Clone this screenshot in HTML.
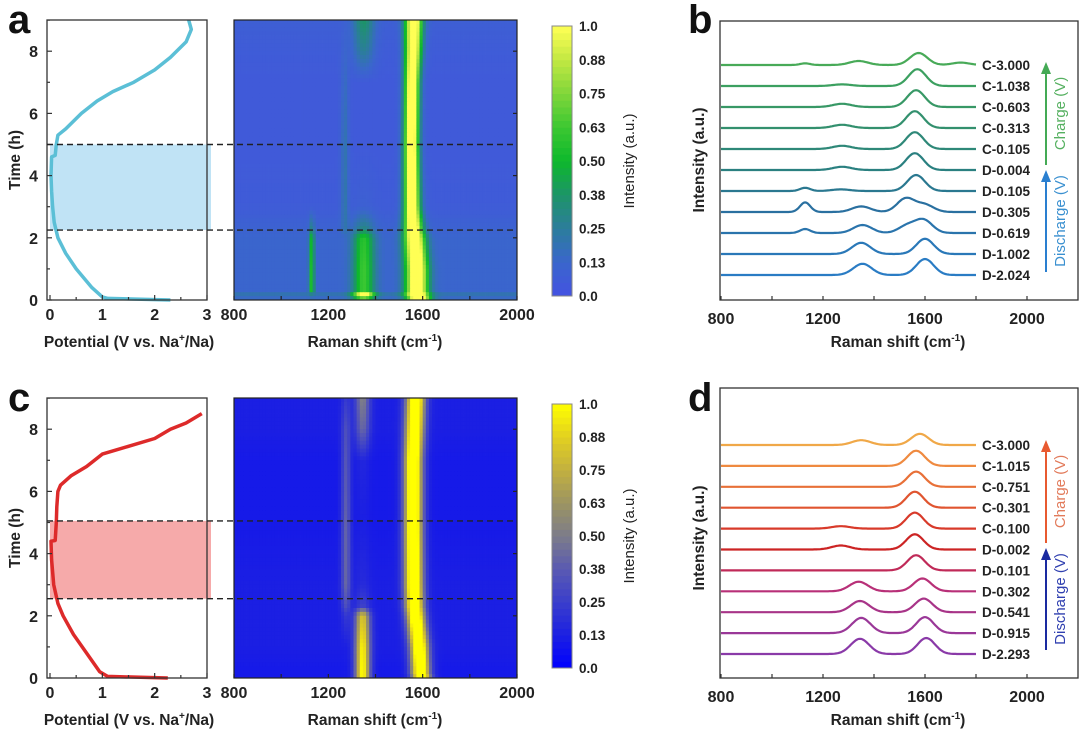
<!DOCTYPE html>
<html><head><meta charset="utf-8"><style>
html,body{margin:0;padding:0;background:#fff;}
svg{display:block;font-family:"Liberation Sans",Arial,sans-serif;}
.tk{font-size:16px;font-weight:bold;fill:#222;}
.tt{font-size:15.5px;font-weight:bold;fill:#222;}
.pl{font-size:40px;font-weight:bold;fill:#111;}
.lb{font-size:13.5px;font-weight:bold;fill:#222;}
</style></head><body>
<svg id="fig" width="1080" height="731" viewBox="0 0 1080 731"></svg>
<script>
// ---------- DATA ----------
const potATime=[0,0.05,0.1,0.4,1.0,1.5,2.0,2.5,3.0,3.5,4.0,4.6,4.65,5.0,5.3,5.5,6.0,6.4,6.7,7.0,7.4,7.8,8.3,8.7,9.0];
const potAVolt=[2.3,1.1,1.0,0.8,0.5,0.3,0.15,0.08,0.05,0.03,0.02,0.03,0.1,0.12,0.15,0.3,0.6,0.9,1.2,1.6,2.0,2.3,2.6,2.7,2.65];
const potCTime=[0,0.05,0.2,0.8,1.4,2.0,2.4,3.0,3.8,4.4,4.42,5.0,5.5,6.0,6.2,6.5,6.8,7.2,7.45,7.7,8.0,8.2,8.5];
const potCVolt=[2.25,1.1,0.95,0.7,0.45,0.25,0.15,0.07,0.03,0.02,0.1,0.12,0.13,0.15,0.2,0.4,0.7,1.0,1.5,2.0,2.3,2.6,2.9];
const shadeA=[2.25,5.0];
const shadeC=[2.55,5.05];
// heatmap knots (time h)
const hmTimes=[0,0.2,0.3,1,2,2.3,3,5,7,8,9];
const hmAGCenter=[1585,1575,1575,1575,1565,1560,1555,1552,1555,1560,1562];
const hmAGWidth=[40,40,38,38,36,32,28,26,26,28,30];
const hmADAmp=[0.4,0.95,0.5,0.5,0.45,0.2,0.03,0,0,0.2,0.3];
const hmA1130=[0,0.1,0.45,0.45,0.4,0.2,0,0,0,0,0];
const hmA1270=[0,0,0,0,0,0.1,0.15,0.15,0.1,0.05,0];
const hmABase=[0.12,0.2,0.12,0.12,0.12,0.1,0.06,0.05,0.05,0.06,0.08];
const hmCGCenter=[1595,1590,1590,1585,1570,1565,1562,1560,1560,1565,1570];
const hmCDAmp=[0.9,0.9,0.9,0.85,0.7,0.15,0.05,0.02,0.05,0.3,0.4];
const hmC1270=[0,0,0,0,0.1,0.2,0.3,0.3,0.25,0.2,0.1];
const hmCBase=[0.1,0.1,0.1,0.12,0.12,0.12,0.12,0.1,0.1,0.12,0.12];
// spectra
const specBLabels=["D-2.024","D-1.002","D-0.619","D-0.305","D-0.105","D-0.004","C-0.105","C-0.313","C-0.603","C-1.038","C-3.000"];
const specBPeaks=[[[1600,1.0],[1355,0.7]],[[1600,0.95],[1350,0.7]],[[1595,0.8],[1530,0.45],[1355,0.5],[1130,0.25]],[[1525,0.85],[1600,0.45],[1350,0.35],[1130,0.6]],[[1565,1.0],[1130,0.2],[1270,0.1]],[[1560,1.05],[1275,0.2]],[[1560,1.05],[1275,0.2]],[[1560,1.05],[1275,0.2]],[[1565,1.05],[1275,0.2]],[[1570,1.05],[1275,0.1]],[[1575,0.75],[1340,0.25],[1130,0.1],[1740,0.15]]];
const specDLabels=["D-2.293","D-0.915","D-0.541","D-0.302","D-0.101","D-0.002","C-0.100","C-0.301","C-0.751","C-1.015","C-3.000"];
const specDPeaks=[[[1605,1.0],[1345,0.95]],[[1600,1.0],[1350,0.95]],[[1595,0.85],[1345,0.7]],[[1590,0.8],[1340,0.6]],[[1565,0.95]],[[1560,0.95],[1270,0.25]],[[1560,1.0],[1270,0.15]],[[1560,1.0]],[[1565,0.95]],[[1565,0.95]],[[1580,0.7],[1350,0.3]]];
const specBColors=["#2a7cc4","#2a78b8","#2a74ac","#2a70a0","#2a7890","#2a8080","#2e8878","#33906e","#389866","#3ca060","#48aa58"];
const specDColors=["#8a3aa8","#9a3898","#a83488","#b83078","#c02a58","#cc2424","#d83a2a","#e05530","#e87038","#ef8a40","#f0a848"];
const cbTicks=["0.0","0.13","0.25","0.38","0.50","0.63","0.75","0.88","1.0"];
const cmapA=["#4452e2","#3a66cc","#2c7d9c","#1d9468","#0db82c","#3cc832","#80d63a","#c2e842","#ffff55"];
const cmapC=["#0000ff","#1c20e2","#3a3ecc","#5a5ab2","#7c7c8a","#9c9462","#c2b040","#e2d020","#ffff00"];

// ---------- HELPERS ----------
const NS="http://www.w3.org/2000/svg";
const svg=document.getElementById('fig');
function mk(tag,attrs,parent,text){const e=document.createElementNS(NS,tag);for(const k in attrs)e.setAttribute(k,attrs[k]);if(text!==undefined)e.textContent=text;(parent||svg).appendChild(e);return e;}
function interp(xs,ys,x){if(x<=xs[0])return ys[0];for(let i=1;i<xs.length;i++){if(x<=xs[i]){const f=(x-xs[i-1])/(xs[i]-xs[i-1]);return ys[i-1]+f*(ys[i]-ys[i-1]);}}return ys[ys.length-1];}
function hex(h){return [parseInt(h.substr(1,2),16),parseInt(h.substr(3,2),16),parseInt(h.substr(5,2),16)];}
function cmap(stops,v){v=Math.max(0,Math.min(1,v));const p=v*(stops.length-1);const i=Math.min(stops.length-2,Math.floor(p));const f=p-i;const a=hex(stops[i]),b=hex(stops[i+1]);return `rgb(${Math.round(a[0]+(b[0]-a[0])*f)},${Math.round(a[1]+(b[1]-a[1])*f)},${Math.round(a[2]+(b[2]-a[2])*f)})`;}
function gauss(x,c,w){return Math.exp(-((x-c)*(x-c))/(2*w*w));}
const xPot=v=>50+v*(157/3);
const xRam=r=>234+(r-800)*(283/1200);
const xSpec=r=>721+(r-800)*0.255;

function panel(top,opt){
  const yT=t=>top+280-t*31.1;
  const g=mk('g',{});
  mk('text',{x:8,y:top+13,class:'pl',},g,opt.letter);
  const pg=mk('g',{},g);
  mk('rect',{x:xPot(0),y:yT(opt.shade[1]),width:xPot(3)-xPot(0)+4,height:yT(opt.shade[0])-yT(opt.shade[1]),fill:opt.shadeColor,},pg);
  let d='';opt.time.forEach((t,i)=>{d+=(i?'L':'M')+xPot(opt.volt[i]).toFixed(1)+','+yT(t).toFixed(1);});
  mk('path',{d:d,fill:'none',stroke:opt.curveColor,'stroke-width':3.5,'stroke-linejoin':'round',},pg);
  mk('rect',{x:47,y:top,width:160,height:280,fill:'none',stroke:'#333','stroke-width':1.3,},pg);
  for(let t=0;t<=9;t++){const y=yT(t);mk('line',{x1:47,x2:t%2?50:52,y1:y,y2:y,stroke:'#333','stroke-width':1.2},pg);
    if(t%2===0){mk('text',{x:38,y:y+6,class:'tk','text-anchor':'end',},pg,String(t));}}
  for(let v=0;v<=3;v+=0.5){const x=xPot(v);mk('line',{x1:x,x2:x,y1:top+280,y2:top+(v%1?277:275),stroke:'#333','stroke-width':1.2},pg);
    if(v%1===0){mk('text',{x:x,y:top+300,class:'tk','text-anchor':'middle',},pg,String(v));}}
  mk('text',{x:0,y:0,class:'tt','text-anchor':'middle',transform:`translate(20,${top+140}) rotate(-90)`,},pg,'Time (h)');
  const xt=mk('text',{x:129,y:top+327,class:'tt','text-anchor':'middle',},pg);
  xt.innerHTML='Potential (V vs. Na<tspan dy="-6" font-size="10">+</tspan><tspan dy="6">/Na)</tspan>';
  const hg=mk('g',{},g);
  const nc=90,nr=72;const cw=283/nc,rh=280/nr;
  for(let r=0;r<nr;r++){const t=9*(1-(r+0.5)/nr);
    for(let c=0;c<nc;c++){const ram=800+1200*(c+0.5)/nc;
      const v=opt.val(t,ram);
      mk('rect',{x:(234+c*cw).toFixed(2),y:(top+r*rh).toFixed(2),width:(cw+0.4).toFixed(2),height:(rh+0.4).toFixed(2),fill:cmap(opt.cmap,v)},hg);
    }}
  mk('rect',{x:234,y:top,width:283,height:280,fill:'none',stroke:'#222','stroke-width':1.2,},hg);
  [800,1000,1200,1400,1600,1800,2000].forEach(rv=>{const x=xRam(rv);mk('line',{x1:x,x2:x,y1:top+280,y2:top+276,stroke:'#222','stroke-width':1.2},hg);
    if(rv%400===0){mk('text',{x:x,y:top+300,class:'tk','text-anchor':'middle',},hg,String(rv));}});
  [2,4,6,8].forEach(t=>mk('line',{x1:517,x2:513,y1:yT(t),y2:yT(t),stroke:'#222','stroke-width':1.2},hg));
  const ht=mk('text',{x:375,y:top+327,class:'tt','text-anchor':'middle',},hg);
  ht.innerHTML='Raman shift (cm<tspan dy="-6" font-size="10">-1</tspan><tspan dy="6">)</tspan>';
  opt.shade.forEach(t=>{mk('line',{x1:47,x2:517,y1:yT(t),y2:yT(t),stroke:'#222','stroke-width':1.4,'stroke-dasharray':'6,4',},g);});
  const cg=mk('g',{},g);
  const cbT=top+6,cbB=top+opt.cbH;const n=40;
  for(let i=0;i<n;i++){mk('rect',{x:552,y:cbB-(i+1)*(cbB-cbT)/n,width:20,height:(cbB-cbT)/n+0.5,fill:cmap(opt.cmap,(i+0.5)/n)},cg);}
  mk('rect',{x:552,y:cbT,width:20,height:cbB-cbT,fill:'none',stroke:'#888','stroke-width':1},cg);
  cbTicks.forEach((s,i)=>{const y=cbB-i*(cbB-cbT)/8;mk('text',{x:579,y:y+5,class:'lb',},cg,s);});
  mk('text',{x:0,y:0,'font-size':'15',fill:'#222','text-anchor':'middle',transform:`translate(634,${(cbT+cbB)/2}) rotate(-90)`,},cg,'Intensity (a.u.)');
}

function spectra(top,opt){
  const g=mk('g',{});
  mk('text',{x:688,y:top+13,class:'pl',},g,opt.letter);
  mk('rect',{x:720,y:top+opt.boxTop,width:358,height:280-opt.boxTop,fill:'none',stroke:'#333','stroke-width':1.3,},g);
  [800,1000,1200,1400,1600,1800,2000].forEach(rv=>{const x=xSpec(rv);mk('line',{x1:x,x2:x,y1:top+280,y2:top+276,stroke:'#333','stroke-width':1.2},g);
    if(rv%400===0){mk('text',{x:x,y:top+304,class:'tk','text-anchor':'middle',},g,String(rv));}});
  const xt=mk('text',{x:898,y:top+327,class:'tt','text-anchor':'middle',},g);
  xt.innerHTML='Raman shift (cm<tspan dy="-6" font-size="10">-1</tspan><tspan dy="6">)</tspan>';
  mk('text',{x:0,y:0,class:'tt','text-anchor':'middle',transform:`translate(704,${top+140}) rotate(-90)`,},g,'Intensity (a.u.)');
  opt.labels.forEach((lab,i)=>{
    const base=top+opt.base0-i*opt.step;
    let d='';
    for(let r=800;r<=1800;r+=5){let v=0;opt.peaks[i].forEach(p=>{v+=p[1]*gauss(r,p[0],p[0]<1200?20:(p[0]<1450?36:34));});
      d+=(r===800?'M':'L')+xSpec(r).toFixed(1)+','+(base-v*16).toFixed(1);}
    const p=mk('path',{d:d,fill:'none',stroke:opt.colors[i],'stroke-width':2.2},g);
    
    
    mk('text',{x:982,y:base+5,class:'lb',},g,lab);
  });
  const ax=1046;
  function arrow(y1,y2,col,text,tcol,name){
    mk('line',{x1:ax,x2:ax,y1:y1,y2:y2+10,stroke:col,'stroke-width':2,},g);
    mk('polygon',{points:`${ax-5},${y2+12} ${ax+5},${y2+12} ${ax},${y2}`,fill:col},g);
    mk('text',{x:0,y:0,'font-size':'15',fill:tcol,'text-anchor':'middle',transform:`translate(1065,${(y1+y2)/2}) rotate(-90)`,},g,text);
  }
  arrow(top+opt.cArrow[0],top+opt.cArrow[1],opt.cCol,'Charge (V)',opt.cTxt,'charge');
  arrow(top+opt.dArrow[0],top+opt.dArrow[1],opt.dCol,'Discharge (V)',opt.dTxt,'discharge');
}

panel(20,{name:'panel-a',letter:'a',time:potATime,volt:potAVolt,shade:shadeA,shadeColor:'#c0e3f5',curveColor:'#5bbfd6',cmap:cmapA,cbH:276,
  val:(t,r)=>{const gc=interp(hmTimes,hmAGCenter,t),gw=interp(hmTimes,hmAGWidth,t);
    return interp(hmTimes,hmABase,t)+1.15*gauss(r,gc,gw*0.85)+interp(hmTimes,hmADAmp,t)*gauss(r,1350,32)+interp(hmTimes,hmA1130,t)*gauss(r,1130,8)+interp(hmTimes,hmA1270,t)*gauss(r,1270,12);}});
panel(398,{name:'panel-c',letter:'c',time:potCTime,volt:potCVolt,shade:shadeC,shadeColor:'#f6aaaa',curveColor:'#dd2a2a',cmap:cmapC,cbH:270,
  val:(t,r)=>{const gc=interp(hmTimes,hmCGCenter,t);
    return interp(hmTimes,hmCBase,t)+1.15*gauss(r,gc,27)+interp(hmTimes,hmCDAmp,t)*gauss(r,1345,22)+interp(hmTimes,hmC1270,t)*gauss(r,1275,14);}});
spectra(20,{name:'panel-b',letter:'b',labels:specBLabels,peaks:specBPeaks,colors:specBColors,base0:255,step:21,boxTop:1,
  cArrow:[145,42],dArrow:[252,150],cCol:'#44aa55',cTxt:'#55b060',dCol:'#2a7fd0',dTxt:'#3a90d0'});
spectra(398,{name:'panel-d',letter:'d',labels:specDLabels,peaks:specDPeaks,colors:specDColors,base0:256,step:20.9,boxTop:-10,
  cArrow:[145,42],dArrow:[252,150],cCol:'#e85a30',cTxt:'#e27a5a',dCol:'#1a2aa0',dTxt:'#3040b0'});
</script>
</body></html>
